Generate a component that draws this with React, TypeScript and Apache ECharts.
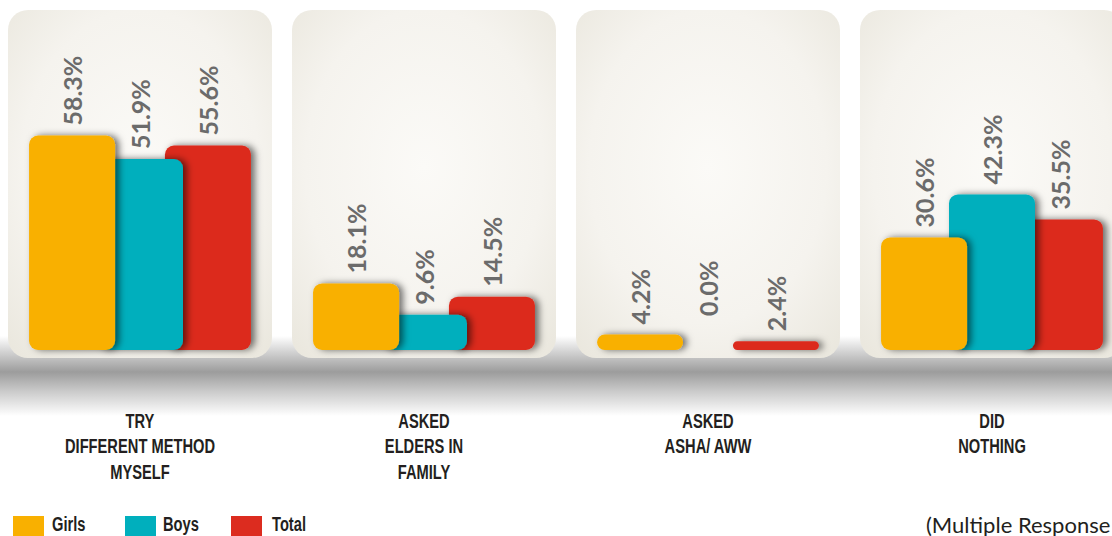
import React, { useEffect, useRef } from "react";
import * as echarts from "echarts";

const categories = [
  "TRY\nDIFFERENT METHOD\nMYSELF",
  "ASKED\nELDERS IN\nFAMILY",
  "ASKED\nASHA/ AWW",
  "DID\nNOTHING",
];
const girls = [58.3, 18.1, 4.2, 30.6];
const boys = [51.9, 9.6, 0.0, 42.3];
const total = [55.6, 14.5, 2.4, 35.5];
const seriesNames = ["Girls", "Boys", "Total"];
const seriesColors = ["#f9b000", "#00afbd", "#dc2c1f"];
const note = "(Multiple Response";

const labelFont = "Lato, 'Open Sans', sans-serif";
const condFont = "'Liberation Sans', Arial, sans-serif";
const condScale = 0.7;

export default function App() {
  const ref = useRef<HTMLDivElement>(null);
  useEffect(() => {
    if (!ref.current) return;
    const chart = echarts.init(ref.current, undefined, { renderer: "svg" });
    const values = [girls, boys, total];
    const option: any = {
      animation: false,
      backgroundColor: "#ffffff",
      grid: { left: -2, width: 1136, top: 19, bottom: 186, outerBoundsMode: "none", containLabel: false },
      xAxis: {
        type: "category",
        data: categories,
        axisLine: { show: false },
        axisTick: { show: false },
        splitLine: { show: false },
        axisLabel: { show: false },
      },
      yAxis: { type: "value", min: 0, max: 90, show: false },
      series: seriesNames.map((name, i) => ({
        name,
        type: "bar",
        data: values[i].map((v) =>
          v === 0 ? { value: v, label: { distance: 34 } } : v
        ),
        barWidth: 86,
        barGap: "-21%",
        z: 5 - i,
        itemStyle: {
          color: seriesColors[i],
          borderRadius: 9,
          shadowBlur: 7,
          shadowOffsetX: 4,
          shadowOffsetY: 0,
          shadowColor: "rgba(0,0,0,0.55)",
        },
        label: {
          show: true,
          position: "top",
          rotate: 90,
          align: "left",
          verticalAlign: "middle",
          distance: 10,
          formatter: (p: any) => Number(p.value).toFixed(1) + "%",
          fontFamily: labelFont,
          fontWeight: "bold",
          fontSize: 25,
          color: "#6b6b6b",
        },
      })),
    };
    chart.setOption(option);

    const centers = categories.map((_, i) =>
      chart.convertToPixel({ xAxisIndex: 0 }, i) as number
    );
    const panels = centers.map((cx) => ({
      type: "rect",
      z: 1,
      silent: true,
      shape: { x: Math.round(cx) - 132, y: 10, width: 264, height: 348, r: 20 },
      style: {
        fill: new echarts.graphic.RadialGradient(0.5, 0.45, 0.75, [
          { offset: 0, color: "#fbfaf7" },
          { offset: 0.6, color: "#f5f3ee" },
          { offset: 1, color: "#e9e6dc" },
        ]),
      },
    }));
    const catLabels = centers.map((cx, i) => ({
      type: "text",
      z: 2,
      x: cx,
      y: 408,
      scaleX: condScale,
      style: {
        text: categories[i],
        textAlign: "center",
        textVerticalAlign: "top",
        fontFamily: condFont,
        fontWeight: "bold",
        fontSize: 21,
        lineHeight: 25.5,
        fill: "#231f20",
      },
    }));
    const legendRectX = [13, 125, 231];
    const legendTextX = [52, 163, 272];
    const legendItems: any[] = [];
    seriesNames.forEach((name, i) => {
      legendItems.push({
        type: "rect",
        z: 2,
        shape: { x: legendRectX[i], y: 516, width: 31, height: 20 },
        style: { fill: seriesColors[i] },
      });
      legendItems.push({
        type: "text",
        z: 2,
        x: legendTextX[i],
        y: 524.5,
        scaleX: condScale,
        style: {
          text: name,
          textAlign: "left",
          textVerticalAlign: "middle",
          fontFamily: condFont,
          fontWeight: "bold",
          fontSize: 21,
          lineHeight: 21,
          fill: "#231f20",
        },
      });
    });

    chart.setOption({
      graphic: {
        elements: [
          {
            type: "rect",
            z: 0,
            silent: true,
            shape: { x: 0, y: 336, width: 1112, height: 80 },
            style: {
              fill: new echarts.graphic.LinearGradient(0, 0, 0, 1, [
                { offset: 0, color: "#ffffff" },
                { offset: 0.2, color: "#d2d2d2" },
                { offset: 0.45, color: "#9c9c9c" },
                { offset: 0.7, color: "#cccccc" },
                { offset: 1, color: "#ffffff" },
              ]),
            },
          },
          ...panels,
          ...catLabels,
          ...legendItems,
          {
            type: "text",
            z: 2,
            x: 926,
            y: 524,
            style: {
              text: note,
              textVerticalAlign: "middle",
              fontFamily: "Lato, 'Open Sans', sans-serif",
              fontSize: 22,
              fill: "#231f20",
            },
          },
        ],
      },
    });
    return () => chart.dispose();
  }, []);
  return (
    <div
      ref={ref}
      style={{ position: "fixed", left: 0, top: 0, width: 1112, height: 536 }}
    />
  );
}
